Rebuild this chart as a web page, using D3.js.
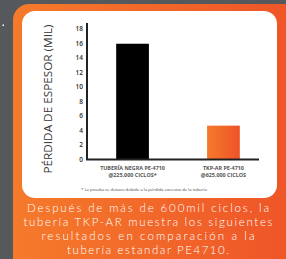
<!DOCTYPE html>
<html>
<head>
<meta charset="utf-8">
<script src="https://cdn.jsdelivr.net/npm/d3@7"></script>
<style>
  body { margin: 0; background: #55595c; }
  svg { display: block; }
</style>
</head>
<body>
<div id="chart"></div>
<script>
const categories = ["TUBERÍA NEGRA PE-4710", "TKP-AR PE-4710"];
const subLabels = ["@225,000 CICLOS*", "@625,000 CICLOS"];
const values = [15.9, 4.6];
const yTicks = [0, 2, 4, 6, 8, 10, 12, 14, 16, 18];
const captionLines = [
    "Después de más de 600mil ciclos, la",
    "tubería TKP-AR muestra los siguientes",
    "resultados en comparación a la",
    "tubería estandar PE4710."
];
const captionWidths = [242, 249, 213, 162];

const W = 286, H = 259;
const svg = d3.select("#chart").append("svg")
    .attr("width", W)
    .attr("height", H);

const defs = svg.append("defs");
const grad = defs.append("linearGradient").attr("id", "og")
    .attr("x1", "0%").attr("x2", "100%").attr("y1", "0%").attr("y2", "0%");
grad.append("stop").attr("offset", "0%").attr("stop-color", "#f57a2b");
grad.append("stop").attr("offset", "100%").attr("stop-color", "#ee5228");

// Background & cards
svg.append("rect").attr("width", W).attr("height", H).attr("fill", "#55595c");
svg.append("rect").attr("x", 2.5).attr("y", 24.5).attr("width", 1.5).attr("height", 1.5).attr("fill", "#fff");
svg.append("rect")
    .attr("x", 13).attr("y", 4)
    .attr("width", 300).attr("height", 290)
    .attr("rx", 16)
    .attr("fill", "url(#og)");
svg.append("rect")
    .attr("x", 22).attr("y", 11)
    .attr("width", 255).attr("height", 187)
    .attr("rx", 13)
    .attr("fill", "#fff");

// Scales
const y = d3.scaleLinear().domain([0, 18]).range([159, 28.5]);
const x = d3.scaleBand().domain(categories).range([98, 258]).paddingInner(0.64).paddingOuter(0.2);

// Bars
svg.selectAll(".bar")
    .data(categories)
    .enter()
    .append("rect")
    .attr("class", "bar")
    .attr("x", d => x(d))
    .attr("width", x.bandwidth())
    .attr("y", (d, i) => y(values[i]))
    .attr("height", (d, i) => y(0) - y(values[i]))
    .attr("fill", (d, i) => i === 0 ? "#000" : "url(#og)");

// Y axis
const yAxis = svg.append("g")
    .attr("transform", "translate(87,0)")
    .call(d3.axisLeft(y).tickValues(yTicks).tickSize(0).tickPadding(4));
yAxis.select(".domain").remove();
yAxis.attr("font-family", "'Open Sans', sans-serif").attr("font-size", 6.5);
yAxis.selectAll("text")
    .attr("fill", "#2a2a2a")
    .attr("font-weight", 600);

svg.append("line")
    .attr("x1", 87).attr("x2", 87)
    .attr("y1", 23).attr("y2", 160)
    .attr("stroke", "#222").attr("stroke-width", 2);
svg.append("line")
    .attr("x1", 86).attr("x2", 259)
    .attr("y1", 159.5).attr("y2", 159.5)
    .attr("stroke", "#222").attr("stroke-width", 2);

// Y label
svg.append("text")
    .attr("transform", "translate(52,99) rotate(-90)")
    .attr("text-anchor", "middle")
    .attr("textLength", 149)
    .attr("lengthAdjust", "spacingAndGlyphs")
    .style("font-family", "'Open Sans', sans-serif")
    .style("font-size", "10.5px")
    .attr("fill", "#333")
    .text("PÉRDIDA DE ESPESOR (MIL)");

// X labels
const xl = svg.append("g")
    .style("font-family", "'Open Sans', sans-serif")
    .style("font-size", "5.4px")
    .style("font-weight", "bold")
    .attr("fill", "#555");
xl.selectAll(".cat")
    .data(categories)
    .enter()
    .append("text")
    .attr("x", d => x(d) + x.bandwidth() / 2)
    .attr("y", 170)
    .attr("text-anchor", "middle")
    .text(d => d);
xl.selectAll(".sub")
    .data(subLabels)
    .enter()
    .append("text")
    .attr("x", (d, i) => x(categories[i]) + x.bandwidth() / 2)
    .attr("y", 177)
    .attr("text-anchor", "middle")
    .text(d => d);

// Footnote
svg.append("text")
    .attr("x", 81).attr("y", 191)
    .attr("textLength", 126)
    .attr("lengthAdjust", "spacingAndGlyphs")
    .style("font-family", "'Open Sans', sans-serif")
    .style("font-size", "3px")
    .attr("fill", "#444")
    .text("* La prueba se detuvo debido a la pérdida excesiva de la tubería");

// Caption
svg.selectAll(".cap")
    .data(captionLines)
    .enter()
    .append("text")
    .attr("x", 148)
    .attr("y", (d, i) => 212 + i * 14)
    .attr("text-anchor", "middle")
    .attr("textLength", (d, i) => captionWidths[i])
    .attr("lengthAdjust", "spacing")
    .style("font-family", "Lato, sans-serif")
    .style("font-size", "11.5px")
    .style("font-weight", 300)
    .attr("fill", "#fff")
    .text(d => d);
</script>
</body>
</html>
